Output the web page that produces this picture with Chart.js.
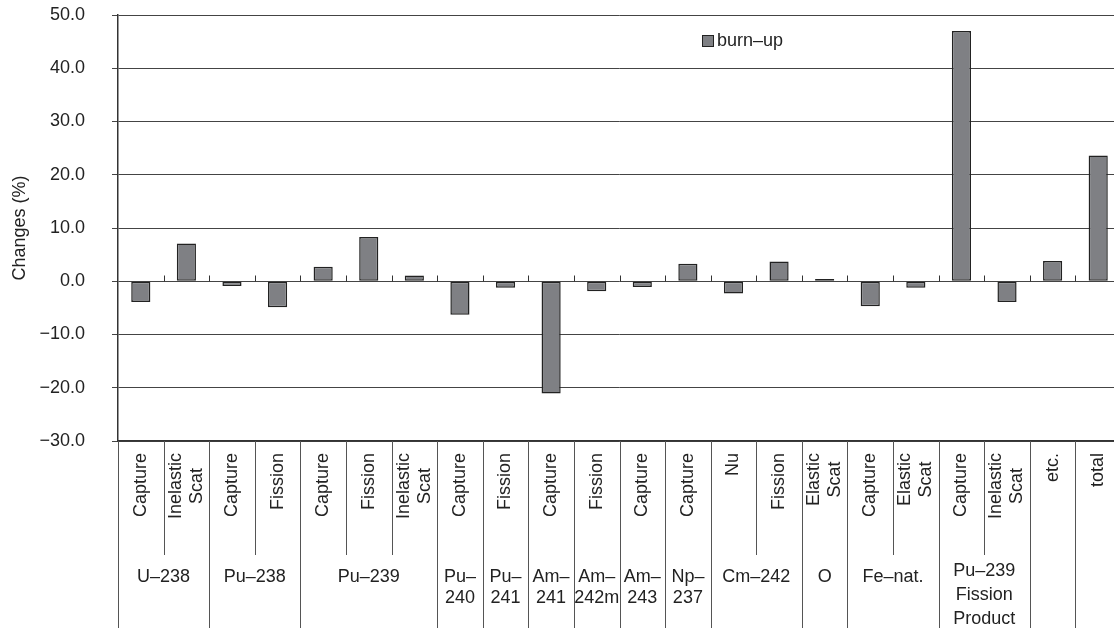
<!DOCTYPE html>
<html>
<head>
<meta charset="utf-8">
<script src="https://cdn.jsdelivr.net/npm/chart.js@4.4.1/dist/chart.umd.min.js"></script>
<style>
  html, body { margin: 0; padding: 0; background: #fff; overflow: hidden; }
  #wrap { width: 1121px; height: 628px; position: relative; }
</style>
</head>
<body>
<div id="wrap"><canvas id="chart"></canvas></div>
<script>
// Reaction of each bar (rotated labels, one entry per bar)
const reactions = [
  ['Capture'], ['Inelastic', 'Scat'],
  ['Capture'], ['Fission'],
  ['Capture'], ['Fission'], ['Inelastic', 'Scat'],
  ['Capture'],
  ['Fission'],
  ['Capture'],
  ['Fission'],
  ['Capture'],
  ['Capture'],
  ['Nu'], ['Fission'],
  ['Elastic', 'Scat'],
  ['Capture'], ['Elastic', 'Scat'],
  ['Capture'], ['Inelastic', 'Scat'],
  ['etc.'],
  ['total']
];

// Nuclide groups under the reactions and how many bars each spans
const nuclides = [
  ['U–238'], ['Pu–238'], ['Pu–239'], ['Pu–', '240'], ['Pu–', '241'],
  ['Am–', '241'], ['Am–', '242m'], ['Am–', '243'], ['Np–', '237'],
  ['Cm–242'], ['O'], ['Fe–nat.'], ['Pu–239', 'Fission', 'Product'],
  [], []
];
const nuclideSpans = [2, 2, 3, 1, 1, 1, 1, 1, 1, 2, 1, 2, 2, 1, 1];

// Change of the burn-up reactivity (%)
const burnUp = [
  -3.9, 7.1,
  -0.9, -4.9,
  2.7, 8.3, 1.1,
  -6.3,
  -1.2,
  -21.1,
  -1.9,
  -1.1,
  3.3,
  -2.3, 3.7,
  0.4,
  -4.7, -1.2,
  47.0, -3.9,
  3.8,
  23.6
];

const yTicks = { min: -30, max: 50, step: 10 };

const FONT = '"Liberation Sans", Arial, Helvetica, sans-serif';
const TEXT = '#222';
const BAR_FILL = '#7f8084';
const BAR_EDGE = '#222';

Chart.defaults.font.family = FONT;
Chart.defaults.font.size = 18;
Chart.defaults.color = TEXT;

const fmt = v => (v < 0 ? '−' : '') + Math.abs(v).toFixed(1);

// Draws the zero-line ticks, the two-row category table and the legend
const categoryTable = {
  id: 'categoryTable',
  afterDraw(chart) {
    const { ctx, chartArea: area, scales } = chart;
    const xs = scales.x, ys = scales.y;
    const n = reactions.length;
    const w = (xs.right - xs.left) / n;
    const bx = i => Math.round(xs.left + i * w) + 0.5;
    const y0 = Math.round(ys.getPixelForValue(0)) + 0.5;
    const bottom = area.bottom;
    const H = chart.height;

    ctx.save();
    // small ticks on the zero line between categories
    ctx.strokeStyle = '#333';
    ctx.lineWidth = 1;
    ctx.beginPath();
    for (let i = 1; i < n; i++) {
      ctx.moveTo(bx(i), y0 - 6);
      ctx.lineTo(bx(i), y0);
    }
    ctx.stroke();

    // table dividers
    ctx.strokeStyle = '#555';
    ctx.beginPath();
    ctx.moveTo(bx(0), bottom);
    ctx.lineTo(bx(0), H);
    let start = 0;
    nuclideSpans.forEach(span => {
      for (let k = 1; k < span; k++) {
        ctx.moveTo(bx(start + k), bottom);
        ctx.lineTo(bx(start + k), bottom + 114);
      }
      start += span;
      ctx.moveTo(bx(start), bottom);
      ctx.lineTo(bx(start), H);
    });
    ctx.stroke();

    // rotated reaction labels
    ctx.fillStyle = TEXT;
    ctx.font = '18px ' + FONT;
    ctx.textAlign = 'center';
    ctx.textBaseline = 'middle';
    const lh = 21;
    reactions.forEach((lines, i) => {
      const cx = xs.left + (i + 0.5) * w;
      const maxW = Math.max(...lines.map(s => ctx.measureText(s).width));
      const cy = bottom + 12 + maxW / 2;
      lines.forEach((s, j) => {
        ctx.save();
        ctx.translate(cx + (j - (lines.length - 1) / 2) * lh, cy);
        ctx.rotate(-Math.PI / 2);
        ctx.fillText(s, 0, 0);
        ctx.restore();
      });
    });

    // nuclide labels
    start = 0;
    nuclideSpans.forEach((span, g) => {
      const cx = xs.left + (start + span / 2) * w;
      const lines = nuclides[g];
      const first = lines.length > 2 ? bottom + 130 : bottom + 136;
      const step = lines.length > 2 ? 24 : 21;
      lines.forEach((s, j) => ctx.fillText(s, cx, first + j * step));
      start += span;
    });

    // legend
    const ds = chart.data.datasets[0];
    ctx.fillStyle = ds.backgroundColor;
    ctx.fillRect(702, 35, 12, 12);
    ctx.strokeStyle = BAR_EDGE;
    ctx.strokeRect(702.5, 35.5, 11, 11);
    ctx.fillStyle = TEXT;
    ctx.textAlign = 'left';
    ctx.fillText(ds.label, 717, 41);
    ctx.restore();
  }
};

new Chart(document.getElementById('chart'), {
  type: 'bar',
  data: {
    labels: reactions.map(r => r.join(' ')),
    datasets: [{
      label: 'burn–up',
      data: burnUp,
      backgroundColor: BAR_FILL,
      borderColor: BAR_EDGE,
      borderWidth: 1.5,
      borderSkipped: false,
      barPercentage: 0.42,
      categoryPercentage: 1
    }]
  },
  options: {
    responsive: true,
    maintainAspectRatio: false,
    animation: false,
    layout: { padding: { top: 15, right: 0, bottom: 0, left: 0 } },
    plugins: { legend: { display: false }, tooltip: { enabled: false } },
    scales: {
      x: {
        grid: { display: false },
        ticks: { display: false },
        border: { color: '#333', width: 1.5 },
        afterFit(s) { s.height = 187; }
      },
      y: {
        min: yTicks.min,
        max: yTicks.max,
        ticks: { stepSize: yTicks.step, padding: 27, color: TEXT, callback: v => fmt(v) },
        grid: { color: '#444', lineWidth: 1, tickLength: 6 },
        border: { color: '#333', width: 1.5 },
        title: { display: true, text: 'Changes (%)', color: TEXT, font: { size: 18 }, padding: { top: 9 } },
        afterFit(s) {
          s.width = 118;
          // only half a label height is needed above the top tick
          s.paddingTop = 10;
          s.paddingBottom = 10;
        }
      }
    }
  },
  plugins: [categoryTable]
});
</script>
</body>
</html>
